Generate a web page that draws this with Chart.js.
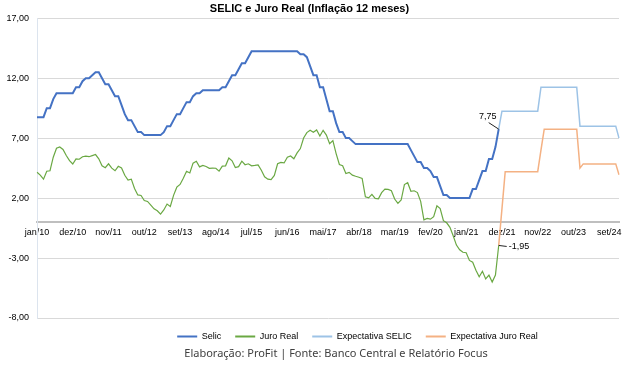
<!DOCTYPE html>
<html>
<head>
<meta charset="utf-8">
<script src="https://cdn.jsdelivr.net/npm/chart.js@4.4.0/dist/chart.umd.min.js"></script>
<style>
  html, body { margin: 0; padding: 0; background: #fff; }
  #wrap { position: relative; width: 643px; height: 365px; }
  #fonte { position: absolute; left: 0; width: 672px; top: 345px; text-align: center; line-height: 15px;
           font-family: "Noto Sans", sans-serif; font-size: 11px; color: #404040; white-space: nowrap; }
</style>
</head>
<body>
<div id="wrap">
  <canvas id="chart" width="643" height="365"></canvas>
  <div id="fonte">Elaboração: ProFit | Fonte: Banco Central e Relatório Focus</div>
</div>
<script>
// meses jan/10 .. dez/24
const meses = ['jan', 'fev', 'mar', 'abr', 'mai', 'jun', 'jul', 'ago', 'set', 'out', 'nov', 'dez'];
const anos = ['10', '11', '12', '13', '14', '15', '16', '17', '18', '19', '20', '21', '22', '23', '24'];
const categorias = [];
anos.forEach(a => meses.forEach(m => categorias.push(m + '/' + a)));

const tickLabels = ['jan/10', 'dez/10', 'nov/11', 'out/12', 'set/13', 'ago/14', 'jul/15', 'jun/16',
  'mai/17', 'abr/18', 'mar/19', 'fev/20', 'jan/21', 'dez/21', 'nov/22', 'out/23', 'set/24'];

// Selic (jan/10 .. nov/21)
const selic = [
  8.75, 8.75, 8.75, 9.50, 9.50, 10.25, 10.75, 10.75, 10.75, 10.75, 10.75, 10.75,
  11.25, 11.25, 11.75, 12.00, 12.00, 12.25, 12.50, 12.50, 12.00, 11.50, 11.50, 11.00,
  10.50, 10.50, 9.75, 9.00, 8.50, 8.50, 8.00, 7.50, 7.50, 7.25, 7.25, 7.25,
  7.25, 7.25, 7.25, 7.50, 8.00, 8.00, 8.50, 9.00, 9.00, 9.50, 10.00, 10.00,
  10.50, 10.75, 10.75, 11.00, 11.00, 11.00, 11.00, 11.00, 11.00, 11.25, 11.25, 11.75,
  12.25, 12.25, 12.75, 13.25, 13.25, 13.75, 14.25, 14.25, 14.25, 14.25, 14.25, 14.25,
  14.25, 14.25, 14.25, 14.25, 14.25, 14.25, 14.25, 14.25, 14.25, 14.00, 14.00, 13.75,
  13.00, 12.25, 12.25, 11.25, 11.25, 10.25, 9.25, 9.25, 8.25, 7.50, 7.50, 7.00,
  7.00, 6.75, 6.50, 6.50, 6.50, 6.50, 6.50, 6.50, 6.50, 6.50, 6.50, 6.50,
  6.50, 6.50, 6.50, 6.50, 6.50, 6.50, 6.50, 6.00, 5.50, 5.00, 5.00, 4.50,
  4.50, 4.25, 3.75, 3.75, 3.00, 2.25, 2.25, 2.00, 2.00, 2.00, 2.00, 2.00,
  2.00, 2.00, 2.75, 2.75, 3.50, 4.25, 4.25, 5.25, 5.25, 6.25, 7.75
];

// Juro Real (jan/10 .. nov/21)
const juroReal = [
  4.16, 3.92, 3.58, 4.24, 4.28, 5.41, 6.15, 6.26, 6.05, 5.55, 5.12, 4.84,
  5.26, 5.24, 5.45, 5.49, 5.45, 5.54, 5.63, 5.27, 4.69, 4.53, 4.86, 4.50,
  4.28, 4.65, 4.51, 3.90, 3.51, 3.58, 2.80, 2.26, 2.22, 1.80, 1.72, 1.41,
  1.10, 0.94, 0.66, 1.01, 1.50, 1.30, 2.23, 2.91, 3.14, 3.66, 4.23, 4.09,
  4.91, 5.07, 4.60, 4.72, 4.63, 4.48, 4.50, 4.49, 4.25, 4.66, 4.69, 5.34,
  5.11, 4.55, 4.62, 5.08, 4.78, 4.86, 4.69, 4.72, 4.76, 4.32, 3.77, 3.58,
  3.54, 3.89, 4.86, 4.97, 4.93, 5.41, 5.51, 5.28, 5.77, 6.13, 7.01, 7.46,
  7.65, 7.49, 7.68, 7.17, 7.65, 7.25, 6.54, 6.79, 5.71, 4.80, 4.70, 4.05,
  4.14, 3.91, 3.82, 3.74, 3.64, 2.11, 2.02, 2.31, 1.97, 1.94, 2.45, 2.75,
  2.72, 2.61, 1.92, 1.56, 1.84, 3.13, 3.28, 2.57, 2.61, 2.46, 1.73, 0.19,
  0.31, 0.24, 0.45, 1.35, 1.12, 0.12, -0.06, -0.44, -1.14, -1.92, -2.31, -2.52,
  -2.56, -3.20, -3.35, -4.01, -4.56, -4.10, -4.74, -4.43, -5.00, -4.42, -1.95
];

// Expectativas (nov/21 .. dez/24)
const expSelic = [
  7.75,
  9.25, 9.25, 9.25, 9.25, 9.25, 9.25, 9.25, 9.25, 9.25, 9.25, 9.25, 9.25,
  11.25, 11.25, 11.25, 11.25, 11.25, 11.25, 11.25, 11.25, 11.25, 11.25, 11.25, 11.25,
  8.00, 8.00, 8.00, 8.00, 8.00, 8.00, 8.00, 8.00, 8.00, 8.00, 8.00, 8.00,
  7.00
];
const expJuro = [
  -1.95,
  1.10, 4.20, 4.20, 4.20, 4.20, 4.20, 4.20, 4.20, 4.20, 4.20, 4.20, 4.20,
  6.00, 7.75, 7.75, 7.75, 7.75, 7.75, 7.75, 7.75, 7.75, 7.75, 7.75, 7.75,
  4.50, 4.85, 4.85, 4.85, 4.85, 4.85, 4.85, 4.85, 4.85, 4.85, 4.85, 4.85,
  3.95
];

const N = categorias.length;
const fim = arr => arr.concat(Array(N - arr.length).fill(null));
const inicio = arr => Array(N - arr.length).fill(null).concat(arr);
const fmt = v => v.toFixed(2).replace('.', ',');
const ultimo = selic.length - 1;

const rotulos = {
  id: 'rotulos',
  afterDatasetsDraw(chart) {
    const ctx = chart.ctx;
    const pS = chart.getDatasetMeta(0).data[ultimo];
    const pJ = chart.getDatasetMeta(1).data[ultimo];
    ctx.save();
    ctx.strokeStyle = '#222';
    ctx.lineWidth = 1;
    ctx.beginPath();
    ctx.moveTo(pS.x - 10, pS.y - 6.5);
    ctx.lineTo(pS.x, pS.y);
    ctx.stroke();
    ctx.beginPath();
    ctx.moveTo(pJ.x, pJ.y);
    ctx.lineTo(pJ.x + 8, pJ.y + 1);
    ctx.stroke();
    ctx.font = '9px "Liberation Sans", Arial, sans-serif';
    ctx.fillStyle = '#000';
    ctx.textBaseline = 'middle';
    ctx.textAlign = 'center';
    ctx.fillText(fmt(selic[ultimo]), pS.x - 11, pS.y - 13);
    ctx.textAlign = 'left';
    ctx.fillText(fmt(juroReal[ultimo]), pJ.x + 10, pJ.y + 1.5);
    ctx.restore();
  }
};

// legenda deslocada para a direita como no original
const legendaDesloc = {
  id: 'legendaDesloc',
  afterLayout(chart) {
    chart.legend.left += 48;
    chart.legend.right += 48;
  }
};

new Chart(document.getElementById('chart'), {
  type: 'line',
  data: {
    labels: categorias,
    datasets: [
      { label: 'Selic', data: fim(selic), borderColor: '#4472C4', backgroundColor: '#4472C4', borderWidth: 2 },
      { label: 'Juro Real', data: fim(juroReal), borderColor: '#6AA843', backgroundColor: '#6AA843', borderWidth: 1.2 },
      { label: 'Expectativa SELIC', data: inicio(expSelic), borderColor: '#9DC3E6', backgroundColor: '#9DC3E6', borderWidth: 1.5 },
      { label: 'Expectativa Juro Real', data: inicio(expJuro), borderColor: '#F4B183', backgroundColor: '#F4B183', borderWidth: 1.5 }
    ]
  },
  options: {
    responsive: false,
    animation: false,
    layout: { padding: { left: 0, right: 24, top: 0, bottom: 14 } },
    elements: { point: { radius: 0 }, line: { tension: 0 } },
    scales: {
      x: {
        position: { y: 0 },
        grid: { display: false, drawTicks: false },
        border: { color: '#BFBFBF', width: 2 },
        ticks: {
          autoSkip: false, maxRotation: 0, padding: 5,
          color: '#000', font: { family: '"Liberation Sans", Arial, sans-serif', size: 9 },
          callback(val) {
            const l = this.getLabelForValue(val);
            return tickLabels.includes(l) ? l : '';
          }
        }
      },
      y: {
        min: -8, max: 17,
        afterFit(scale) { scale.width = 37; },
        grid: { color: '#D9D9D9', drawTicks: false },
        border: { color: '#DCE4EE' },
        ticks: {
          stepSize: 5, padding: 8, color: '#000',
          font: { family: '"Liberation Sans", Arial, sans-serif', size: 9 },
          callback: v => fmt(v)
        }
      }
    },
    plugins: {
      title: {
        display: true,
        text: 'SELIC e Juro Real (Inflação 12 meses)',
        color: '#000',
        font: { family: '"Liberation Sans", Arial, sans-serif', size: 11, weight: 'bold' },
        padding: { top: 2, bottom: 3 }
      },
      legend: {
        position: 'bottom',
        labels: {
          boxWidth: 20, boxHeight: 2, padding: 14, color: '#000',
          font: { family: '"Liberation Sans", Arial, sans-serif', size: 9 },
          generateLabels(chart) {
            return Chart.defaults.plugins.legend.labels.generateLabels(chart)
              .map(l => Object.assign(l, { lineWidth: 0, fillStyle: l.strokeStyle }));
          }
        }
      },
      tooltip: { enabled: false }
    }
  },
  plugins: [rotulos, legendaDesloc]
});
</script>
</body>
</html>
